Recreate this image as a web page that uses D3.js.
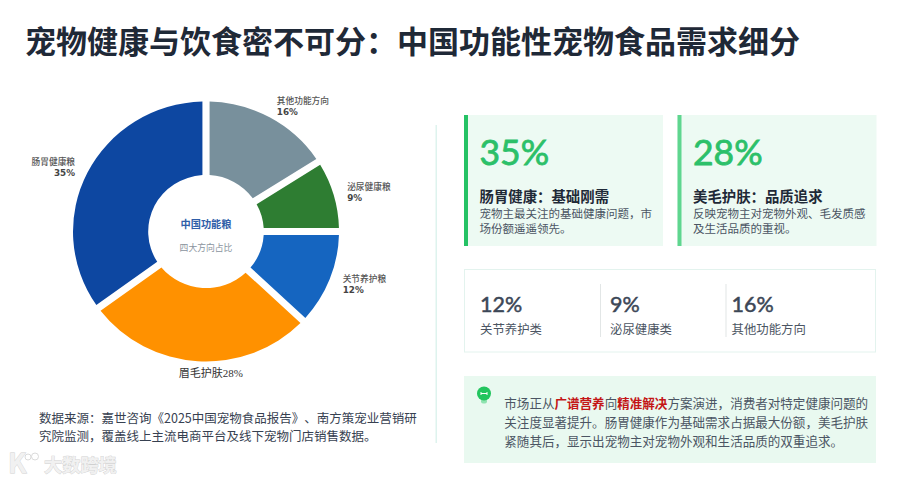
<!DOCTYPE html>
<html>
<head>
<meta charset="utf-8">
<title>中国功能性宠物食品需求细分</title>
<style>
  html, body { margin: 0; padding: 0; background: #fff; }
  svg { display: block; }
  text { font-family: "Noto Sans CJK SC", "Noto Sans", sans-serif; }
</style>
</head>
<body>
<svg id="chart" width="900" height="481"></svg>
<script src="https://cdn.jsdelivr.net/npm/d3@7/dist/d3.min.js"></script>
<script>
  // Data
  var titleText = '宠物健康与饮食密不可分：中国功能性宠物食品需求细分'
  var categories = ['其他功能方向', '泌尿健康粮', '关节养护粮', '眉毛护肤', '肠胃健康粮']
  var shares = [16, 9, 12, 28, 35]
  var sliceColors = ['#78909c', '#2e7d32', '#1565c0', '#ff9100', '#0d47a1']
  var centerLines = ['中国功能粮', '四大方向占比']
  var sourceLines = [
    '数据来源：嘉世咨询《2025中国宠物食品报告》、南方策宠业营销研',
    '究院监测，覆盖线上主流电商平台及线下宠物门店销售数据。'
  ]
  var cardValues = ['35%', '28%']
  var cardTitles = ['肠胃健康：基础刚需', '美毛护肤：品质追求']
  var cardBodies = [
    ['宠物主最关注的基础健康问题，市', '场份额遥遥领先。'],
    ['反映宠物主对宠物外观、毛发质感', '及生活品质的重视。']
  ]
  var statValues = ['12%', '9%', '16%']
  var statNames = ['关节养护类', '泌尿健康类', '其他功能方向']
  var noteLines = [
    [['市场正从', 0], ['广谱营养', 1], ['向', 0], ['精准解决', 1], ['方案演进，消费者对特定健康问题的', 0]],
    [['关注度显著提升。肠胃健康作为基础需求占据最大份额，美毛护肤', 0]],
    [['紧随其后，显示出宠物主对宠物外观和生活品质的双重追求。', 0]]
  ]
  var watermark = '大数跨境'

  var svg = d3.select('#chart')
  var DARK = '#1f2937'
  var BODY = '#4b5563'
  var LATIN = 'Lato, "Noto Sans CJK SC", sans-serif'

  function addText(parent, str, x, y, size, color, weight, anchor) {
    return parent.append('text')
      .attr('x', x)
      .attr('y', y)
      .attr('font-size', size)
      .attr('fill', color)
      .attr('font-weight', weight || 400)
      .attr('text-anchor', anchor || 'start')
      .text(str)
  }

  addText(svg, titleText, 25, 53, 31, DARK, 700)

  // Donut
  var CX = 206
  var CY = 231.5
  var OUTER = 130
  var INNER = 56.5
  var GAP = 7

  var donut = svg.append('g')
    .attr('transform', 'translate(' + CX + ',' + CY + ')')

  var pie = d3.pie().sort(null).value(function (d) { return d })
  var slices = pie(shares)
  var arc = d3.arc()
    .innerRadius(INNER)
    .outerRadius(OUTER)
    .padRadius(OUTER)
    .padAngle(GAP / OUTER)

  donut.selectAll('path')
    .data(slices)
    .enter()
    .append('path')
    .attr('d', arc)
    .attr('transform', 'scale(1.023,1)')
    .attr('fill', function (d, i) { return sliceColors[i] })

  var labels = donut.selectAll('g.slice-label')
    .data(slices)
    .enter()
    .append('g')
    .classed('slice-label', true)

  labels.each(function (d, i) {
    var el = d3.select(this)
    var alpha = (d.startAngle + d.endAngle) / 2
    var x = 147 * Math.sin(alpha)
    var y = -143 * Math.cos(alpha)
    // the bottom slice has its label on one centred line
    if (Math.abs(x) < 20) {
      addText(el, categories[i] + shares[i] + '%', x + 14, y + 2.8, 11, '#333', 400, 'middle')
        .style('font-family', '"Liberation Serif", "Noto Sans CJK SC", serif')
      return
    }
    var anchor = x < 0 ? 'end' : 'start'
    addText(el, categories[i], x, y - 2, 8.7, '#555', 500, anchor)
    addText(el, shares[i] + '%', x, y + 9, 8.8, '#444', 700, anchor)
      .style('font-family', '"DejaVu Sans", sans-serif')
  })

  addText(donut, centerLines[0], 0, -4, 10.2, '#2f5ea8', 700, 'middle')
  addText(donut, centerLines[1], 0, 19.5, 8.8, '#8a949e', 400, 'middle')

  sourceLines.forEach(function (line, i) {
    addText(svg, line, 39, 423 + i * 18.3, 12.5, '#374151')
      .style('text-spacing-trim', 'space-all')
  })

  // Divider between the two halves
  svg.append('rect')
    .attr('x', 435.5).attr('y', 125)
    .attr('width', 1.5).attr('height', 318)
    .attr('fill', '#def3ee')

  // Two highlight cards
  var cardX = d3.scaleOrdinal().domain(cardValues).range([464, 677.5])
  var cards = svg.selectAll('g.card')
    .data(cardValues)
    .enter()
    .append('g')
    .classed('card', true)
    .attr('transform', function (d) { return 'translate(' + cardX(d) + ',115)' })

  cards.append('rect')
    .attr('width', 199).attr('height', 131)
    .attr('fill', '#edfaf3')
  cards.append('rect')
    .attr('width', 4).attr('height', 131)
    .attr('fill', function (d, i) { return i ? '#5fd68f' : '#25c265' })

  cards.each(function (d, i) {
    var el = d3.select(this)
    addText(el, d, 15.5, 50, 35.5, '#2cc069', 400)
      .attr('stroke', '#2cc069').attr('stroke-width', 0.8)
      .style('font-family', LATIN)
    addText(el, cardTitles[i], 15.5, 87, 14.4, DARK, 700)
    cardBodies[i].forEach(function (line, j) {
      addText(el, line, 15.5, 103 + j * 15, 11.5, BODY)
    })
  })

  // Small stats
  svg.append('rect')
    .attr('x', 464.5).attr('y', 269.5)
    .attr('width', 411).attr('height', 82.5)
    .attr('fill', '#fff')
    .attr('stroke', '#e3f3ee')

  var statX = d3.scaleOrdinal().domain(statNames).range([480, 610, 731.5])
  statNames.forEach(function (name, i) {
    addText(svg, statValues[i], statX(name), 312, 21.5, '#3c4757', 400)
      .attr('stroke', '#3c4757').attr('stroke-width', 0.5)
      .style('font-family', LATIN)
    addText(svg, name, statX(name), 333.5, 12.4, BODY)
    if (i) {
      svg.append('rect')
        .attr('x', statX(name) - (i === 1 ? 10 : 6))
        .attr('y', 284)
        .attr('width', 1).attr('height', 53)
        .attr('fill', '#e2e6e6')
    }
  })

  // Note box
  svg.append('rect')
    .attr('x', 464).attr('y', 376)
    .attr('width', 412).attr('height', 87)
    .attr('fill', '#e9f9f0')

  var bulb = svg.append('g').attr('transform', 'translate(484,393.5)')
  bulb.append('rect')
    .attr('x', -3).attr('y', 5).attr('width', 6).attr('height', 5).attr('rx', 2)
    .attr('fill', '#8fe3b0')
  bulb.append('circle').attr('r', 7).attr('fill', '#22c55e')
  bulb.append('path')
    .attr('d', 'M-3,-1.5V1.5M3,-1.5V1.5M-3,0H3')
    .attr('stroke', '#fff').attr('stroke-width', 1).attr('fill', 'none')

  noteLines.forEach(function (parts, i) {
    var line = addText(svg, '', 504.3, 407.5 + i * 19.1, 12.55, BODY)
    line.selectAll('tspan')
      .data(parts)
      .enter()
      .append('tspan')
      .attr('fill', function (d) { return d[1] ? '#c41616' : BODY })
      .attr('font-weight', function (d) { return d[1] ? 700 : 400 })
      .text(function (d) { return d[0] })
  })

  // Watermark
  var mark = svg.append('g')
    .attr('fill', '#f1f1f1')
    .attr('stroke', '#d0d0d0')
    .attr('stroke-width', 0.8)
    .attr('paint-order', 'stroke')
  addText(mark, 'K', 8, 473, 27, '#f1f1f1', 700)
  mark.append('circle').attr('cx', 28).attr('cy', 457).attr('r', 3).attr('fill', 'none')
  mark.append('circle').attr('cx', 35).attr('cy', 456.5).attr('r', 3.5).attr('fill', 'none')
  addText(mark, watermark, 44, 471.5, 18.2, '#f1f1f1', 700)
</script>
</body>
</html>
